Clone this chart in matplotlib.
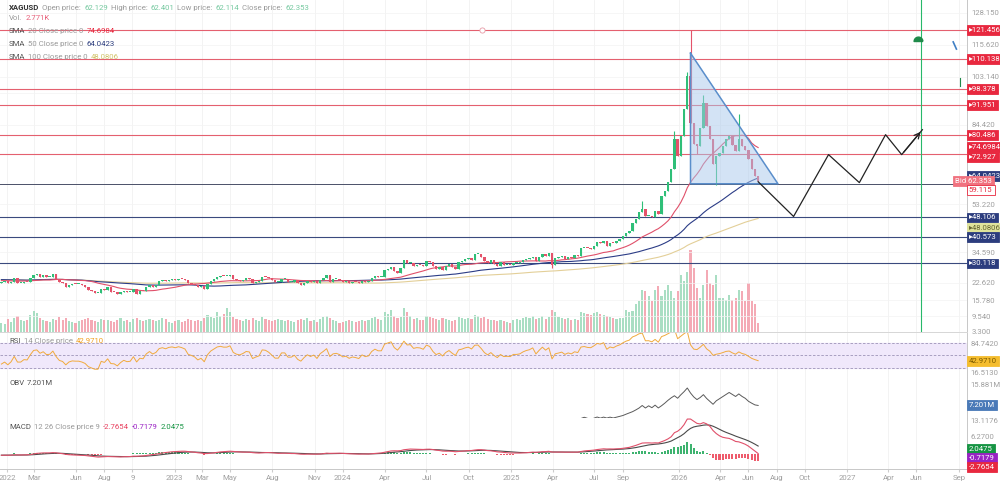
import numpy as np
import pandas as pd
import matplotlib
matplotlib.use("Agg")
import matplotlib.pyplot as plt
import matplotlib.dates as mdates
from matplotlib.path import Path

plt.rcParams['font.family'] = ['Roboto', 'DejaVu Sans']

# weekly closes XAGUSD (week starting monday)
warmup_closes = [26.1, 25.6, 25.2, 25.5, 24.4, 23.7, 23.1, 24.0, 24.7, 23.8, 22.3, 22.5,
                 22.6, 22.6, 23.3, 24.4, 23.9, 24.1, 25.2, 24.7, 23.3, 22.5, 22.2, 22.3]
warmup_start = '2021-07-05'

c2021 = [22.9, 23.3]
c2022 = [22.4, 23.0, 24.3, 22.4, 22.4, 23.0, 22.9, 24.3, 25.7, 25.9, 25.0, 25.5, 24.7,
         24.8, 25.8, 24.2, 22.8, 22.4, 20.9, 21.7, 22.0, 21.9, 21.9, 21.6, 21.1, 19.8,
         19.2, 18.6, 18.6, 20.3, 19.9, 20.8, 19.0, 18.9, 18.0, 18.8, 19.4, 18.9, 19.0,
         20.2, 18.3, 19.4, 19.2, 20.8, 21.7, 20.9, 21.5, 23.1, 23.5, 23.2, 23.8, 24.0]
c2023 = [23.8, 24.2, 24.0, 23.7, 22.4, 22.1, 21.7, 20.8, 21.2, 20.1, 22.0, 23.3, 24.1,
         25.0, 25.3, 25.1, 25.1, 25.6, 24.0, 23.5, 23.3, 23.7, 24.3, 24.2, 22.4, 22.8,
         23.1, 25.0, 24.9, 24.4, 23.6, 22.7, 22.7, 24.2, 24.2, 23.0, 23.0, 23.5, 22.3,
         21.7, 22.6, 23.4, 22.9, 23.3, 22.3, 23.7, 24.5, 25.5, 23.0, 24.0, 24.2, 23.8]
c2024 = [23.0, 23.2, 22.5, 22.9, 22.7, 22.4, 23.4, 22.9, 23.1, 24.4, 25.2, 24.8, 24.8,
         27.4, 28.0, 28.6, 27.2, 26.5, 28.2, 31.4, 30.2, 30.4, 29.2, 29.6, 29.5, 29.1,
         31.2, 30.8, 29.2, 28.0, 28.6, 27.5, 29.0, 29.9, 28.9, 28.0, 30.7, 31.1, 31.8,
         32.2, 31.6, 33.7, 33.8, 32.7, 31.2, 30.3, 31.3, 30.1, 29.2, 30.5, 29.6, 29.7, 29.6]
c2025 = [30.4, 30.4, 30.6, 31.3, 31.8, 32.1, 32.8, 31.1, 32.5, 33.9, 33.0, 34.1, 29.6,
         32.1, 32.5, 33.0, 32.0, 32.7, 32.3, 33.3, 33.0, 36.0, 36.3, 36.0, 35.9, 36.9,
         38.4, 38.2, 39.1, 37.0, 38.3, 38.0, 39.0, 39.7, 41.0, 42.2, 43.0, 46.0, 47.5,
         50.1, 51.3, 48.6, 48.7, 48.3, 50.6, 49.6, 56.4, 58.5, 62.0, 67.0, 79.0, 72.0]
c2026 = [80.0, 90.5, 103.5, 85.0, 77.0, 76.0, 83.0, 93.0, 84.0, 79.0, 69.0, 72.0, 73.5,
         76.0, 79.0, 80.0, 76.5, 74.0, 79.0, 76.0, 74.5, 71.0, 67.0, 64.5, 62.353]

v2021 = [9, 8]
v2022 = [13, 10, 14, 16, 12, 11, 12, 17, 21, 19, 14, 12, 11, 10, 13, 12, 15, 12, 14, 11,
         10, 9, 11, 12, 13, 14, 12, 11, 10, 13, 12, 12, 11, 10, 12, 14, 11, 12, 10, 13,
         14, 12, 11, 12, 13, 12, 11, 12, 14, 13, 10, 9]
v2023 = [11, 12, 10, 11, 13, 12, 11, 12, 11, 14, 17, 15, 14, 20, 16, 18, 24, 20, 15, 13,
         12, 11, 13, 12, 14, 12, 11, 15, 13, 12, 11, 12, 13, 12, 11, 12, 11, 10, 12, 13,
         12, 14, 11, 12, 10, 13, 15, 16, 14, 12, 11, 9]
v2024 = [10, 11, 12, 11, 10, 11, 12, 11, 12, 14, 15, 13, 12, 20, 18, 22, 16, 14, 15, 24,
         20, 16, 13, 14, 12, 12, 16, 15, 14, 13, 12, 14, 13, 12, 11, 12, 15, 14, 13, 14,
         13, 17, 16, 14, 15, 13, 12, 12, 11, 12, 11, 10, 9]
v2025 = [12, 13, 12, 14, 15, 14, 16, 13, 14, 16, 13, 15, 22, 20, 15, 14, 13, 14, 12, 13,
         12, 20, 19, 18, 17, 19, 20, 18, 17, 16, 15, 14, 13, 14,
         14, 22, 20, 21, 28, 31, 42, 41, 36, 31, 42, 46, 36, 42, 47, 41, 34, 41]
v2026 = [57, 51, 60, 82, 64, 44, 34, 47, 62, 49, 47, 57, 34, 34, 32, 37, 32, 34, 42, 41,
         31, 49, 31, 28, 9]

wick_high = {'2025-10-13': 54.5, '2025-12-22': 82.0, '2026-01-19': 105.0,
             '2026-01-26': 121.456, '2026-02-23': 96.0, '2026-05-11': 88.7}
wick_low = {'2025-03-31': 28.3, '2026-02-09': 73.0, '2026-03-23': 61.0}

red_levels = [121.456, 110.138, 98.378, 91.951, 80.486, 72.927]
blue_levels = [48.106, 40.573, 30.118]

price_ticks = [128.150, 115.620, 103.140, 96.909, 84.420, 53.220, 34.590, 22.620, 15.780, 9.540, 3.300]

tri_dates = ['2026-01-26', '2026-01-26', '2026-08-04', '2026-01-26']
tri_prices = [112.4, 61.3, 61.3, 112.4]

proj_dates = ['2026-06-22', '2026-09-07', '2026-11-22', '2027-01-28', '2027-03-26', '2027-04-30', '2027-06-14']
proj_prices = [62.1, 48.5, 72.7, 61.75, 80.5, 72.7, 82.45]

xtick_dates = ['2022-01-01', '2022-03-01', '2022-06-01', '2022-08-01', '2022-10-01', '2023-01-01',
               '2023-03-01', '2023-05-01', '2023-08-01', '2023-11-01', '2024-01-01', '2024-04-01',
               '2024-07-01', '2024-10-01', '2025-01-01', '2025-04-01', '2025-07-01', '2025-09-01',
               '2026-01-01', '2026-04-01', '2026-06-01', '2026-08-01', '2026-10-01', '2027-01-01',
               '2027-04-01', '2027-06-01', '2027-09-01']
xtick_labels = ['2022', 'Mar', 'Jun', 'Aug', '9', '2023', 'Mar', 'May', 'Aug', 'Nov', '2024', 'Apr',
                'Jul', 'Oct', '2025', 'Apr', 'Jul', 'Sep', '2026', 'Apr', 'Jun', 'Aug', 'Oct', '2027',
                'Apr', 'Jun', 'Sep']

# ---- series
closes_all = pd.Series(warmup_closes + c2021 + c2022 + c2023 + c2024 + c2025 + c2026, dtype=float)
dates_all = pd.date_range(warmup_start, periods=len(closes_all), freq='7D')
closes_all.index = dates_all
n_warm = len(warmup_closes)

sma20 = closes_all.rolling(20, min_periods=1).mean()
sma50 = closes_all.rolling(50, min_periods=1).mean()
sma100 = closes_all.rolling(100, min_periods=1).mean()

delta = closes_all.diff()
up = delta.clip(lower=0).ewm(alpha=1 / 14, adjust=False).mean()
dn = (-delta.clip(upper=0)).ewm(alpha=1 / 14, adjust=False).mean()
rsi = 100 - 100 / (1 + up / dn)

ema12 = closes_all.ewm(span=12, adjust=False).mean()
ema26 = closes_all.ewm(span=26, adjust=False).mean()
macd = ema12 - ema26
signal = macd.ewm(span=9, adjust=False).mean()
hist = macd - signal

close = closes_all.iloc[n_warm:]
opn = closes_all.shift(1).iloc[n_warm:]
dates = close.index
vol = pd.Series(v2021 + v2022 + v2023 + v2024 + v2025 + v2026, index=dates, dtype=float)
obv = (np.sign(delta.iloc[n_warm:]) * vol).cumsum()

x = mdates.date2num(dates.to_pydatetime())
hi = np.maximum(opn.values, close.values)
lo = np.minimum(opn.values, close.values)
for d, v in wick_high.items():
    hi[dates.get_loc(pd.Timestamp(d))] = v
for d, v in wick_low.items():
    lo[dates.get_loc(pd.Timestamp(d))] = v
is_up = close.values >= opn.values

GREEN = '#2fbf78'
RED = '#e4526a'

# ---- figure
W, H = 1000, 483
fig = plt.figure(figsize=(10, 4.83), dpi=100)


def rect(x0, y0, x1, y1):
    return [x0 / W, 1 - y1 / H, (x1 - x0) / W, (y1 - y0) / H]


ax_v = fig.add_axes(rect(0, 0, 967, 332))
ax_p = fig.add_axes(rect(0, 0, 967, 332))
ax_r = fig.add_axes(rect(0, 333, 967, 377))
ax_o = fig.add_axes(rect(0, 377, 967, 418))
ax_m = fig.add_axes(rect(0, 418, 967, 469))
ax_p.patch.set_visible(False)

xmin = mdates.date2num(pd.Timestamp('2021-12-17'))
xmax = mdates.date2num(pd.Timestamp('2027-09-19'))
xt = mdates.date2num(pd.to_datetime(xtick_dates).to_pydatetime())

for a in (ax_v, ax_p, ax_r, ax_o, ax_m):
    a.set_xlim(xmin, xmax)
    for s in ('left', 'top'):
        a.spines[s].set_visible(False)
    a.spines['right'].set_color('#c8c8c8')
    a.spines['right'].set_linewidth(0.7)
    a.spines['bottom'].set_color('#d6d6d6')
    a.spines['bottom'].set_linewidth(0.7)
    a.set_xticks(xt)
    a.tick_params(axis='x', length=0, labelbottom=False)
    a.yaxis.tick_right()
    a.tick_params(axis='y', length=0, labelsize=5.6, labelcolor='#a0a0a0', pad=3)
for a in (ax_v, ax_r, ax_o, ax_m):
    for xv in xt:
        a.axvline(xv, color='#f1f1f1', lw=0.6, zorder=0)
ax_v.set_yticks([])
ax_v.spines['bottom'].set_visible(False)

# volume overlay
ax_v.set_ylim(0, vol.max() * 332 / 82)
ax_v.bar(x, vol.values, width=4.6, color=np.where(is_up, '#a9dec3', '#f4aab5'), zorder=2)

# price panel
ax_p.set_ylim(3.3, 133.2)
ax_p.set_yticks(price_ticks)
ax_p.set_yticklabels([f'{t:.3f}' for t in price_ticks])
for t in price_ticks:
    ax_p.axhline(t, color='#f3f3f3', lw=0.5, zorder=0)
for lv in red_levels:
    ax_p.axhline(lv, color='#e4606f', lw=0.8, zorder=2)
for lv in blue_levels:
    ax_p.axhline(lv, color='#3a4a7e', lw=0.8, zorder=2)
ax_p.axhline(close.iloc[-1] - 1.0, color='#4a5068', lw=0.7, zorder=2)

ax_p.plot(dates, sma100.iloc[n_warm:], color='#e3cf98', lw=0.8, zorder=3)
ax_p.plot(dates, sma50.iloc[n_warm:], color='#2b3c86', lw=0.8, zorder=3)
ax_p.plot(dates, sma20.iloc[n_warm:], color='#e0506a', lw=0.8, zorder=3)

ccol = np.where(is_up, GREEN, RED)
ax_p.vlines(x, lo, hi, color=ccol, lw=0.8, zorder=4)
ax_p.bar(x, np.maximum(np.abs(close.values - opn.values), 0.4),
         bottom=np.minimum(opn.values, close.values), width=5.2, color=ccol, zorder=4)

tx = mdates.date2num(pd.to_datetime(tri_dates).to_pydatetime())
ax_p.fill(tx, tri_prices, fc='#a9c9ec', alpha=0.5, lw=0, zorder=5)
ax_p.plot(tx, tri_prices, color='#5a8ecb', lw=1.1, zorder=5)

px = mdates.date2num(pd.to_datetime(proj_dates).to_pydatetime())
ax_p.plot(px, proj_prices, color='#222222', lw=0.9, zorder=6)
ax_p.annotate('', xy=(px[-1], proj_prices[-1]), xytext=(px[-2], proj_prices[-2]),
              arrowprops=dict(arrowstyle='->', color='#222222', lw=0.9))

# drawings at the right
gx = mdates.date2num(pd.Timestamp('2027-06-10'))
ax_p.axvline(gx, color='#27b86a', lw=0.8, zorder=2)
theta = np.linspace(0, np.pi, 20)
dome = Path(np.column_stack([np.cos(theta), np.sin(theta)]).tolist() + [[1, 0]])
ax_p.scatter([mdates.date2num(pd.Timestamp('2027-06-05'))], [117.3], marker=dome, s=40,
             color='#1f8a4a', zorder=7)
ax_p.scatter([mdates.date2num(pd.Timestamp('2024-10-30'))], [121.456], marker='o', s=14,
             facecolor='white', edgecolor='#e79aa6', lw=0.6, zorder=7)
ax_p.plot([mdates.date2num(pd.Timestamp('2027-08-20')), mdates.date2num(pd.Timestamp('2027-08-27'))],
          [116.8, 114.0], color='#3f7fc4', lw=1.2, zorder=7)
ax_p.plot([mdates.date2num(pd.Timestamp('2027-09-04'))] * 2, [99.5, 102.5], color='#1f8a4a', lw=0.8, zorder=7)


def rbox(ax, y, text, fc, tc='white', ec=None, coord='data', xoff=1.002):
    tr = ax.get_yaxis_transform() if coord == 'data' else ax.transAxes
    ax.text(xoff, y, text, transform=tr, fontsize=5.6, color=tc, va='center', ha='left',
            bbox=dict(boxstyle='square,pad=0.25', fc=fc, ec=ec or fc, lw=0.6),
            clip_on=False, zorder=10)


def rtext(ax, yfrac, text):
    ax.text(1.004, yfrac, text, transform=ax.transAxes, fontsize=5.6, color='#a0a0a0',
            va='center', ha='left', clip_on=False)


for lv in red_levels[:5]:
    rbox(ax_p, lv, f'\u25b8{lv:.3f}', '#e8283f')
rbox(ax_p, 75.6, '\u25b874.6984', '#e8283f')
rbox(ax_p, 71.6, '\u25b872.927', '#e8283f')
rbox(ax_p, 64.4, '\u25b864.0423', '#2c3d7e')
rbox(ax_p, 62.4, 'Bid 62.353', '#f0727f', xoff=0.988)
rbox(ax_p, 59.0, '59.115', 'white', tc='#e8283f', ec='#e8283f')
rbox(ax_p, 48.106, '\u25b848.106', '#2c3d7e')
rbox(ax_p, 44.1, '\u25b848.0806', '#dfe39a', tc='#666633')
rbox(ax_p, 40.573, '\u25b840.573', '#2c3d7e')
rbox(ax_p, 30.118, '\u25b830.118', '#2c3d7e')

# RSI panel
ax_r.set_ylim(16.513, 84.742)
ax_r.axhspan(30, 70, color='#f0e8fb', zorder=0)
for lv in (70, 50, 30):
    ax_r.axhline(lv, color='#9d94b8', lw=0.6, ls=(0, (3, 2)), zorder=1)
ax_r.plot(dates, rsi.iloc[n_warm:], color='#f0aa3c', lw=0.7, zorder=3)
ax_r.set_yticks([])
rtext(ax_r, 0.76, '84.7420')
rtext(ax_r, 0.08, '16.5130')
rbox(ax_r, rsi.iloc[-1], '42.9710', '#f5bd2e', tc='#7a5a00')

# OBV panel
obv_ref = obv.loc['2025-07-07']
peak = obv.max()
lo_o = obv_ref - (peak - obv_ref) / 30
hi_o = lo_o + (peak - lo_o) * 41 / 30
ax_o.set_ylim(lo_o, hi_o)
ax_o.plot(dates, obv.values, color='#5a5a5a', lw=0.7, zorder=3)
ax_o.set_yticks([])
rtext(ax_o, 0.80, '15.881M')
rbox(ax_o, obv.iloc[-1], '7.201M', '#4a7ab8')

# MACD panel
top = max(macd.max(), signal.max()) * 1.03
ax_m.set_ylim(-0.4286 * top, top)
hcol = np.where(hist.iloc[n_warm:].values >= 0, '#3db36f', '#ee5b6c')
ax_m.bar(x, hist.iloc[n_warm:].values, width=4.4, color=hcol, zorder=2)
ax_m.plot(dates, signal.iloc[n_warm:], color='#4a4a4a', lw=0.8, zorder=3)
ax_m.plot(dates, macd.iloc[n_warm:], color='#e0506a', lw=0.8, zorder=3)
ax_m.set_yticks([])
rtext(ax_m, 0.95, '13.1176')
rtext(ax_m, 0.63, '6.2700')
rbox(ax_m, 0.39, '2.0475', '#169443', coord='axes')
rbox(ax_m, 0.215, '-0.7179', '#9a22c4', coord='axes')
rbox(ax_m, 0.04, '-2.7654', '#e8283f', coord='axes')

ax_m.tick_params(axis='x', labelbottom=True, length=2, color='#cccccc', labelsize=5.6,
                 labelcolor='#a0a0a0', pad=2)
ax_m.set_xticklabels(xtick_labels)
ax_m.spines['bottom'].set_color('#c8c8c8')

# header texts
renderer = fig.canvas.get_renderer()


def chain(xp, yp, parts, size=5.6):
    for s, col, w in parts:
        t = fig.text(xp / W, 1 - yp / H, s, color=col, fontsize=size, fontweight=w,
                     va='center', ha='left')
        xp += t.get_window_extent(renderer=renderer).width + 3


GR = '#9a9a9a'
VAL = '#76c9a0'
chain(9, 8, [('XAGUSD', '#333333', 'bold'), ('Open price:', GR, 'normal'), ('62.129', VAL, 'normal'),
             ('High price:', GR, 'normal'), ('62.401', VAL, 'normal'), ('Low price:', GR, 'normal'),
             ('62.114', VAL, 'normal'), ('Close price:', GR, 'normal'), ('62.353', VAL, 'normal')])
chain(9, 18, [('Vol.', GR, 'normal'), ('2.771K', '#e8607a', 'normal')])
chain(9, 31, [('SMA', '#555555', 'normal'), ('20 Close price 0', GR, 'normal'), ('74.6984', '#e8283f', 'normal')])
chain(9, 44, [('SMA', '#555555', 'normal'), ('50 Close price 0', GR, 'normal'), ('64.0423', '#2c3d7e', 'normal')])
chain(9, 57, [('SMA', '#555555', 'normal'), ('100 Close price 0', GR, 'normal'), ('48.0806', '#d2c36a', 'normal')])
chain(9, 341, [('RSI', '#555555', 'normal'), ('14 Close price', GR, 'normal'), ('42.9710', '#f0a020', 'normal')])
chain(9, 383, [('OBV', '#555555', 'normal'), ('7.201M', '#555555', 'normal')])
chain(9, 427, [('MACD', '#555555', 'normal'), ('12 26 Close price 9', GR, 'normal'),
               ('-2.7654', '#e8405e', 'normal'), ('-0.7179', '#9a22c4', 'normal'), ('2.0475', '#169443', 'normal')])

fig.savefig('out.png', dpi=100)
plt.close(fig)
